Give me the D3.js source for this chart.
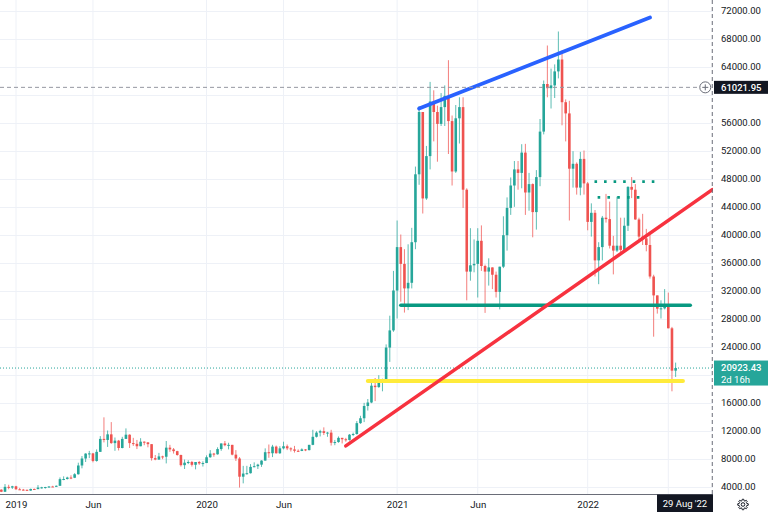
<!DOCTYPE html>
<html>
<head>
<meta charset="utf-8">
<script src="https://cdnjs.cloudflare.com/ajax/libs/d3/7.8.5/d3.min.js"></script>
<style>
  body { margin: 0; background: #fff; }
  svg { display: block; font-family: Roboto, "Liberation Sans", sans-serif; }
</style>
</head>
<body>
<div id="chart"></div>
<script>
// BTCUSD weekly candles, Dec 2018 - Jun 2022
// rows are [open, high, low, close], one per week starting firstWeek
const firstWeek = "2018-12-10";

const ohlc2018 = [
  [3550, 3600, 3200, 3250], [3250, 4350, 3220, 3950], [3950, 4250, 3600, 3850], [3850, 4100, 3650, 4030]
];

const ohlc2019 = [
  [4030, 4100, 3550, 3600], [3600, 3800, 3500, 3550], [3550, 3650, 3450, 3530], [3530, 3550, 3350, 3420],
  [3420, 3700, 3380, 3650], [3650, 3700, 3550, 3620], [3620, 4200, 3620, 3850], [3850, 3950, 3700, 3880],
  [3880, 3950, 3700, 3920], [3920, 4050, 3820, 4000], [4000, 4100, 3950, 3990], [3990, 4150, 3930, 4100],
  [4100, 5300, 4080, 5050], [5050, 5450, 4900, 5070], [5070, 5400, 5000, 5280], [5280, 5600, 5050, 5250],
  [5250, 5900, 5200, 5750], [5750, 7400, 5700, 7000], [7000, 8350, 6600, 8000], [8000, 8750, 7500, 8700],
  [8700, 9090, 8050, 8730], [8730, 8800, 7450, 7650], [7650, 9300, 7550, 8950], [8950, 11200, 8950, 10800],
  [10800, 13880, 10300, 10650], [10650, 12000, 9650, 11450], [11450, 13200, 10100, 10200], [10200, 11000, 9100, 10550],
  [10550, 10650, 9150, 9500], [9500, 11100, 9450, 10800], [10800, 12300, 10800, 11400], [11400, 11450, 9500, 10200],
  [10200, 10950, 9800, 10100], [10100, 10650, 9350, 9750], [9750, 10900, 9750, 10400], [10400, 10450, 9900, 10300],
  [10300, 10350, 9600, 10050], [10050, 10050, 7700, 8050], [8050, 8500, 7750, 7850], [7850, 8800, 7800, 8300],
  [8300, 8400, 7900, 8250], [8250, 10500, 7300, 9550], [9550, 9950, 8950, 9300], [9300, 9500, 8700, 9050],
  [9050, 9100, 8400, 8500], [8500, 8550, 6850, 7050], [7050, 7850, 6500, 7400], [7400, 7750, 7200, 7500],
  [7500, 7650, 6850, 7100], [7100, 7500, 6450, 7500], [7500, 7650, 7100, 7300], [7300, 7600, 6850, 7350]
];

const ohlc2020 = [
  [7350, 8450, 7350, 8180], [8180, 9200, 8100, 8700], [8700, 8800, 8250, 8600], [8600, 9600, 8550, 9350],
  [9350, 10150, 9100, 10150], [10150, 10500, 9750, 9900], [9900, 10250, 9300, 9950], [9950, 9950, 8450, 8550],
  [8550, 9200, 7650, 8000], [8000, 8200, 3850, 5400], [5400, 6950, 4450, 5850], [5850, 6950, 5700, 5900],
  [5900, 7200, 5850, 6800], [6800, 7450, 6750, 6900], [6900, 7250, 6500, 7120], [7120, 7750, 6800, 7700],
  [7700, 9450, 7700, 8900], [8900, 10000, 8100, 8750], [8750, 9950, 8200, 9700], [9700, 9850, 8700, 8750],
  [8750, 9750, 8650, 9450], [9450, 10400, 9300, 9750], [9750, 10000, 9200, 9450], [9450, 9600, 9000, 9300],
  [9300, 9800, 8850, 9100], [9100, 9300, 8950, 9080], [9080, 9450, 9050, 9300], [9300, 9350, 9050, 9200],
  [9200, 9950, 9150, 9950], [9950, 12100, 9900, 11100], [11100, 11900, 11000, 11700], [11700, 12100, 11150, 11900],
  [11900, 12450, 11350, 11650], [11650, 11800, 11100, 11700], [11700, 12100, 9850, 10250], [10250, 10650, 9900, 10350],
  [10350, 11150, 10250, 10950], [10950, 10950, 10150, 10750], [10750, 10950, 10400, 10650], [10650, 11500, 10550, 11400],
  [11400, 11700, 11200, 11500], [11500, 13350, 11400, 13050], [13050, 14100, 12950, 13750], [13750, 15950, 13200, 15500],
  [15500, 16500, 14850, 16000], [16000, 18800, 15900, 18400], [18400, 19500, 16200, 18200], [18200, 19900, 18100, 19150],
  [19150, 19400, 17600, 19250], [19250, 24300, 19000, 23850], [23850, 28400, 21800, 26300], [26300, 34800, 26100, 32000]
];

const ohlc2021 = [
  [32000, 42000, 28000, 38200], [38200, 40000, 30400, 35800], [35800, 37900, 28850, 32300], [32300, 38600, 29200, 33100],
  [33100, 40950, 32300, 38900], [38900, 49700, 37900, 48600], [48600, 58350, 47100, 57500], [57500, 57500, 43000, 45150],
  [45150, 52650, 44950, 51200], [51200, 61800, 49300, 59000], [59000, 60600, 53300, 57500], [57500, 58400, 50400, 55800],
  [55800, 60200, 55500, 58200], [58200, 61300, 55500, 59800], [59800, 64900, 51500, 56200], [56200, 57000, 47000, 49000],
  [49000, 58500, 48800, 56600], [56600, 59600, 53000, 58200], [58200, 59600, 43800, 46400], [46400, 46600, 30600, 34700],
  [34700, 40900, 33400, 35600], [35600, 39300, 34600, 35800], [35800, 40900, 31000, 39100], [39100, 41300, 34800, 35500],
  [35500, 35700, 28800, 34700], [34700, 36600, 32700, 35300], [35300, 35300, 32200, 34250], [34250, 34700, 31000, 31800],
  [31800, 35400, 29300, 35400], [35400, 42600, 35200, 39900], [39900, 45300, 37700, 43800], [43800, 48150, 42800, 47000],
  [47000, 50500, 43950, 49300], [49300, 50500, 46400, 48800], [48800, 52900, 46600, 51700], [51700, 52950, 42800, 46000],
  [46000, 48800, 43400, 47200], [47200, 47300, 39600, 43200], [43200, 49200, 40700, 48200], [48200, 56500, 46900, 54700],
  [54700, 62000, 54300, 61500], [61500, 67000, 59600, 60900], [60900, 63700, 58000, 61300], [61300, 64300, 59500, 63300],
  [63300, 69000, 62300, 65000], [65000, 66300, 55600, 58900], [58900, 59300, 53300, 57300], [57300, 59100, 42000, 49400],
  [49400, 51900, 46700, 50100], [50100, 50300, 45700, 46700], [46700, 51800, 45600, 50800], [50800, 52000, 45700, 47300]
];

const ohlc2022 = [
  [47300, 47500, 40600, 41800], [41800, 44450, 39700, 43100], [43100, 43500, 34000, 36300], [36300, 38900, 32900, 38200],
  [38200, 42650, 36300, 42400], [42400, 45800, 41700, 42200], [42200, 44700, 38000, 38400], [38400, 39800, 34300, 37700],
  [37700, 45400, 37500, 38400], [38400, 42400, 37200, 37800], [37800, 42400, 37500, 41250], [41250, 46900, 40500, 46800],
  [46800, 48200, 45200, 46400], [46400, 47200, 42100, 42150], [42150, 42400, 39200, 39700], [39700, 42950, 38500, 39450],
  [39450, 40800, 37600, 38500], [38500, 40000, 33700, 34000], [34000, 34250, 25400, 31300], [31300, 31300, 28700, 29400],
  [29400, 30600, 28000, 29450], [29450, 32200, 29300, 29900], [29900, 31700, 26600, 26600], [26600, 26800, 17600, 20550],
  [20550, 21700, 19650, 20923.43]
];

const lastPrice = 20923.43;
const lastCountdown = "2d 16h";
const crossPrice = 61021.95;
const crossDate = "2022-08-29";
const crossDateLabel = "29 Aug '22";

const xTickDates = ["2019-01-07", "2019-06-03", "2020-01-06", "2020-06-01", "2021-01-04", "2021-06-07", "2022-01-03", "2022-06-06"];
const xTickLabels = ["2019", "Jun", "2020", "Jun", "2021", "Jun", "2022", ""];
const yTicks = [4000, 8000, 12000, 16000, 20000, 24000, 28000, 32000, 36000, 40000,
  44000, 48000, 52000, 56000, 60000, 64000, 68000, 72000];
// these labels sit under the price boxes, so TradingView hides them
const yHidden = [20000, 60000];

// drawings: [date, price] end points
const blueLine = [["2021-02-15", 58000], ["2022-05-02", 71000]];
const redLine = [["2020-09-28", 9800], ["2022-08-29", 46400]];
const greenLine = [["2021-01-11", 29900], ["2022-07-18", 29900]];
const yellowLine = [["2020-11-09", 19070], ["2022-07-04", 19070]];
const dotsUpper = [["2022-01-16", 47550], ["2022-05-11", 47550]];
const dotsLower = [["2022-01-22", 45300], ["2022-04-12", 45300]];

// Layout
const W = 768, H = 515;
const plotR = 713, plotB = 494;
const up = "#26a69a", down = "#ef5350", ink = "#131722";

const parse = d3.utcParse("%Y-%m-%d");

const svg = d3.select("#chart").
append("svg").
attr("width", W).
attr("height", H);

svg.append("rect").attr("width", W).attr("height", H).attr("fill", "#fff");

svg.append("defs").
append("clipPath").
attr("id", "plot-clip").
append("rect").
attr("width", plotR).
attr("height", plotB);

const candles = [].concat(ohlc2018, ohlc2019, ohlc2020, ohlc2021, ohlc2022).
map((r, i) => ({ date: d3.utcMonday.offset(parse(firstWeek), i), o: r[0], h: r[1], l: r[2], c: r[3] }));

// Scales (weekly bars are evenly spaced, so time maps straight to x)
const xScale = d3.scaleUtc().
domain([parse("2019-01-07"), parse("2022-06-06")]).
range([16, 668.3]);

const yScale = d3.scaleLinear().
domain([2928.6, 73500]).
range([plotB, 0]);

// Grid
const grid = svg.append("g").attr("stroke", "#eef1f7").attr("stroke-width", 1);

grid.selectAll(".vg").
data(xTickDates.map(parse)).
join("line").
attr("x1", d => xScale(d)).attr("x2", d => xScale(d)).
attr("y1", 0).attr("y2", plotB);

grid.selectAll(".hg").
data(yTicks).
join("line").
attr("class", "hg").
attr("x1", 0).attr("x2", plotR).
attr("y1", d => Math.round(yScale(d)) + 0.5).attr("y2", d => Math.round(yScale(d)) + 0.5);

const plot = svg.append("g").attr("clip-path", "url(#plot-clip)");

// Current price line
plot.append("line").
attr("x1", 0).attr("x2", plotR).
attr("y1", yScale(lastPrice)).attr("y2", yScale(lastPrice)).
attr("stroke", up).
attr("stroke-width", 1).
attr("stroke-dasharray", "1 2");

// Candles
const bodyW = 2.6;

plot.selectAll(".wick").
data(candles).
join("line").
attr("class", "wick").
attr("x1", d => xScale(d.date)).attr("x2", d => xScale(d.date)).
attr("y1", d => yScale(d.h)).attr("y2", d => yScale(d.l)).
attr("stroke", d => d.c >= d.o ? up : down).
attr("stroke-opacity", 0.75).
attr("stroke-width", 1);

plot.selectAll(".body").
data(candles).
join("rect").
attr("class", "body").
attr("x", d => xScale(d.date) - bodyW / 2).
attr("width", bodyW).
attr("y", d => yScale(Math.max(d.o, d.c))).
attr("height", d => Math.max(1, yScale(Math.min(d.o, d.c)) - yScale(Math.max(d.o, d.c)))).
attr("fill", d => d.c >= d.o ? up : down);

// Drawings
const seg = d3.line().
x(d => xScale(parse(d[0]))).
y(d => yScale(d[1]));

function drawLine(pts, color, width, dash) {
  const p = plot.append("path").
  attr("d", seg(pts)).
  attr("fill", "none").
  attr("stroke", color).
  attr("stroke-width", width);
  if (dash) p.attr("stroke-dasharray", dash);
  else p.attr("stroke-linecap", "round");
}

drawLine(yellowLine, "#ffeb3b", 4);
drawLine(greenLine, "#089981", 3.5);
drawLine(redLine, "#f7323f", 3.5);
drawLine(blueLine, "#2962ff", 3.8);
drawLine(dotsUpper, "#089981", 2.6, "2.6 6.95");
drawLine(dotsLower, "#089981", 2.6, "2.6 7.2");

// Crosshair
const cy = yScale(crossPrice);
const cx = xScale(parse(crossDate));

svg.append("line").
attr("x1", 0).attr("x2", cx - 13).
attr("y1", cy).attr("y2", cy).
attr("stroke", "#9598a1").
attr("stroke-dasharray", "4 3");

svg.append("line").
attr("x1", cx).attr("x2", cx).
attr("y1", 0).attr("y2", plotB).
attr("stroke", "#6a6d78").
attr("stroke-dasharray", "4 3");

const plus = svg.append("g").attr("transform", `translate(${cx - 7} ${cy})`);
plus.append("circle").attr("r", 5.5).attr("fill", "#fff").attr("stroke", "#6a6d78");
plus.append("path").attr("d", "M-3,0H3M0,-3V3").attr("stroke", "#6a6d78");

// Axes
svg.append("line").
attr("x1", 0).attr("x2", plotR).
attr("y1", plotB + 0.5).attr("y2", plotB + 0.5).
attr("stroke", "#6a6d78");

const yAxis = d3.axisRight(yScale).
tickValues(yTicks.filter(v => !yHidden.includes(v))).
tickFormat(d3.format(".2f")).
tickSize(0).
tickPadding(8);

svg.append("g").
attr("transform", `translate(${plotR} 0)`).
call(yAxis).
call(g => g.select(".domain").remove()).
selectAll("text").
attr("font-family", "Roboto, sans-serif").
attr("font-size", 9.5).
attr("fill", ink);

const xAxis = d3.axisBottom(xScale).
tickValues(xTickDates.map(parse)).
tickFormat((d, i) => xTickLabels[i]).
tickSize(0).
tickPadding(7.5);

svg.append("g").
attr("transform", `translate(0 ${plotB})`).
call(xAxis).
call(g => g.select(".domain").remove()).
selectAll("text").
attr("font-family", "Roboto, sans-serif").
attr("font-size", 9.7).
attr("fill", ink);

// Price labels on the axis
svg.append("rect").
attr("x", plotR + 1).attr("y", cy - 6.5).
attr("width", W - plotR - 1).attr("height", 13).
attr("fill", ink);

svg.append("text").
attr("x", plotR + 8).attr("y", cy).
attr("dy", "0.35em").
attr("font-size", 9.5).
attr("font-weight", 500).
attr("fill", "#fff").
text(d3.format(".2f")(crossPrice));

const ly = yScale(lastPrice);

svg.append("rect").
attr("x", plotR + 1).attr("y", ly - 7.5).
attr("width", W - plotR - 1).attr("height", 25).
attr("fill", up);

svg.append("text").
attr("x", plotR + 8).attr("y", ly).
attr("dy", "0.35em").
attr("font-size", 9.5).
attr("font-weight", 500).
attr("fill", "#fff").
text(d3.format(".2f")(lastPrice));

svg.append("text").
attr("x", plotR + 8).attr("y", ly + 11.5).
attr("dy", "0.35em").
attr("font-size", 9.5).
attr("fill", "#fff").
text(lastCountdown);

// Date label under crosshair, clamped to the pane
svg.append("rect").
attr("x", plotR - 56).attr("y", plotB + 0.5).
attr("width", 56).attr("height", 17.5).
attr("fill", ink);

svg.append("text").
attr("x", plotR - 28).attr("y", plotB + 9.5).
attr("dy", "0.35em").
attr("text-anchor", "middle").
attr("font-size", 9.5).
attr("fill", "#fff").
text(crossDateLabel);

// Settings gear
const gearPts = [];
for (let k = 0; k < 8; k++) {
  const a = k * Math.PI / 4;
  gearPts.push([a - 0.26, 3.9], [a - 0.14, 5.3], [a + 0.14, 5.3], [a + 0.26, 3.9]);
}
const gear = svg.append("g").attr("transform", `translate(743 ${plotB + 10.5})`);
gear.append("path").
attr("d", d3.lineRadial().curve(d3.curveLinearClosed)(gearPts)).
attr("fill", "none").
attr("stroke", ink).
attr("stroke-width", 1);
gear.append("circle").attr("r", 1.8).attr("fill", "none").attr("stroke", ink);
</script>
</body>
</html>
